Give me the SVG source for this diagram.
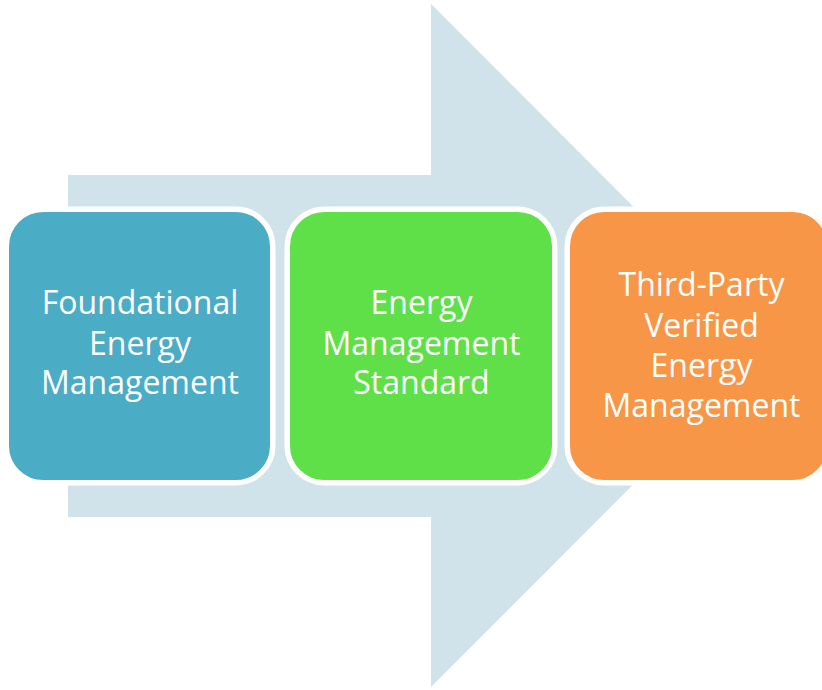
<svg xmlns="http://www.w3.org/2000/svg" width="822" height="690" viewBox="0 0 822 690">
  <style>
    .box { stroke: #FFFFFF; stroke-width: 5.5; }
    .lbl { font-family: "Open Sans", "Noto Sans", "Liberation Sans", sans-serif; font-size: 32px; fill: #FFFFFF; text-anchor: middle; }
  </style>
  <rect width="822" height="690" fill="#FFFFFF"/>
  <g id="arrow">
    <polygon points="68,175 431,175 431,4 772,345.5 431,687 431,517 68,517" fill="#D0E3EA"/>
  </g>
  <g id="connectors"></g>
  <g id="node-foundational">
    <rect class="box" x="6.25" y="209.25" width="266.5" height="273.5" rx="37" fill="#4BACC6"/>
    <text class="lbl" x="140" y="314">Foundational</text>
    <text class="lbl" x="140" y="354.5">Energy</text>
    <text class="lbl" x="140" y="394">Management</text>
  </g>
  <g id="node-standard">
    <rect class="box" x="287.25" y="209.25" width="267.5" height="273.5" rx="37" fill="#5FE049"/>
    <text class="lbl" x="421.5" y="314">Energy</text>
    <text class="lbl" x="421.5" y="354.5">Management</text>
    <text class="lbl" x="421.5" y="394">Standard</text>
  </g>
  <g id="node-verified">
    <rect class="box" x="567.25" y="209.25" width="262.5" height="273.5" rx="37" fill="#F79646"/>
    <text class="lbl" x="701.5" y="296">Third-Party</text>
    <text class="lbl" x="701.5" y="336.5">Verified</text>
    <text class="lbl" x="701.5" y="377">Energy</text>
    <text class="lbl" x="701.5" y="417">Management</text>
  </g>
</svg>
